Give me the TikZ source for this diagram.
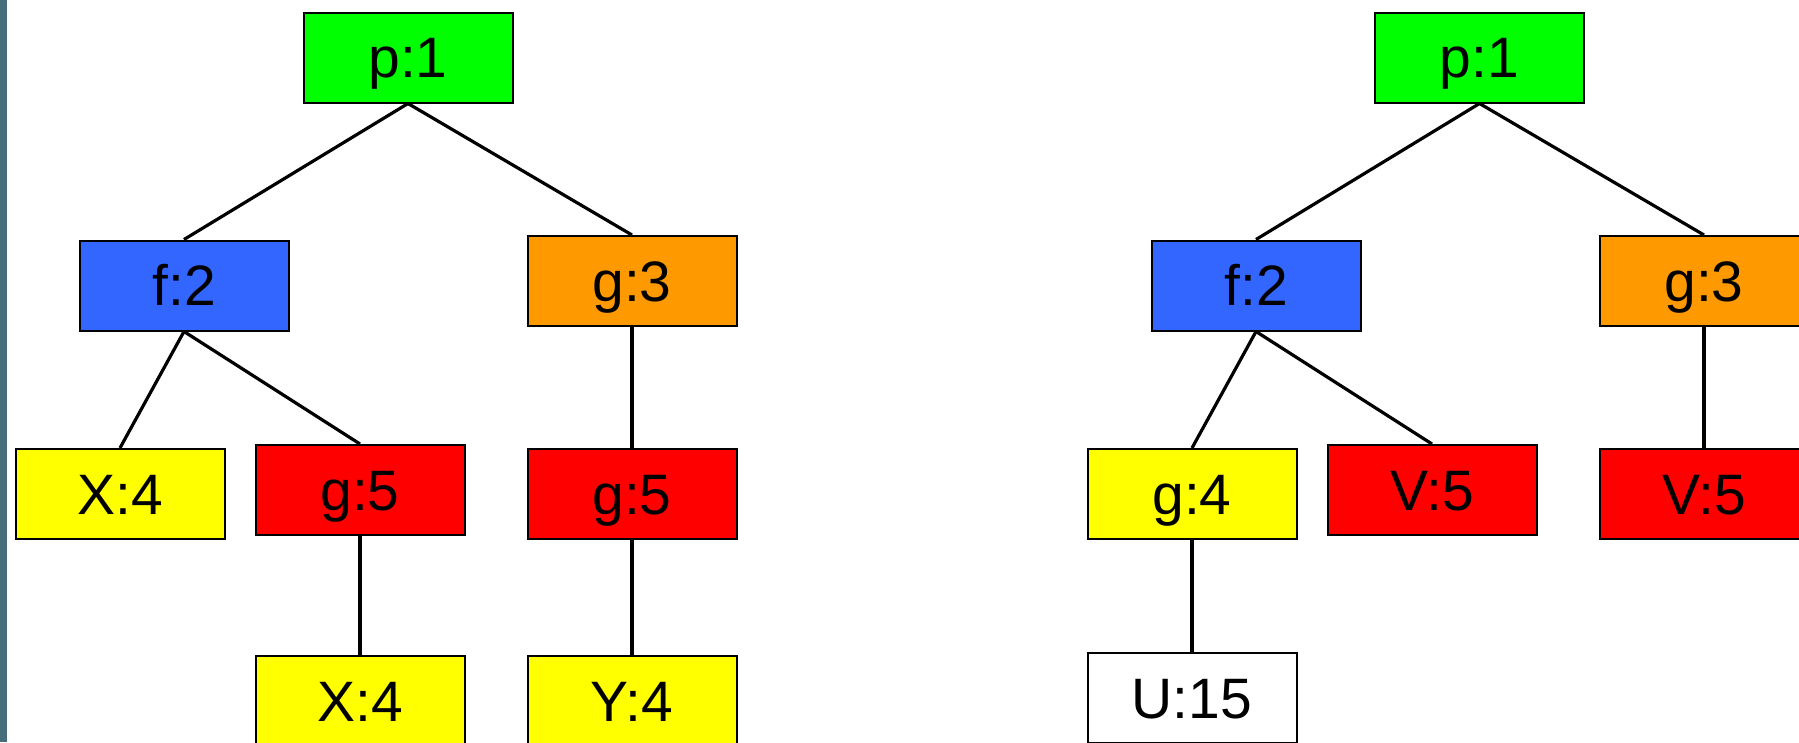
\documentclass[tikz,border=0pt]{standalone}
\usepackage{fontspec}
\setmainfont{Liberation Sans}
\definecolor{cgreen}{HTML}{00FF00}
\definecolor{cblue}{HTML}{3366FF}
\definecolor{corange}{HTML}{FF9900}
\definecolor{cyellow}{HTML}{FFFF00}
\definecolor{cred}{HTML}{FF0000}
\definecolor{cbar}{HTML}{466E7A}
\begin{document}
\begin{tikzpicture}[x=1pt,y=-1pt,
  box/.style={draw=black,line width=2pt,minimum width=209pt,minimum height=90pt,inner sep=0pt,
    font=\fontsize{57}{60}\selectfont,text height=40.8pt,text depth=0pt},
  edge/.style={draw=black,line width=3.2pt}]
\useasboundingbox (0,0) rectangle (1799,742);
\fill[white] (0,0) rectangle (1799,742);
\fill[cbar] (0,0) rectangle (7,742);
% left tree
\node[box,fill=cgreen]  (p1L) at (408,57.5) {p:1};
\node[box,fill=cblue]   (f2L) at (184,285.5) {f:2};
\node[box,fill=corange] (g3L) at (632,281) {g:3};
\node[box,fill=cyellow] (x4a) at (120,494) {X:4};
\node[box,fill=cred]    (g5a) at (360,490) {g:5};
\node[box,fill=cred]    (g5b) at (632,494) {g:5};
\node[box,fill=cyellow] (x4b) at (360,701) {X:4};
\node[box,fill=cyellow] (y4)  at (632,701) {Y:4};
\draw[edge] (p1L.south) -- (f2L.north);
\draw[edge] (p1L.south) -- (g3L.north);
\draw[edge] (f2L.south) -- (x4a.north);
\draw[edge] (f2L.south) -- (g5a.north);
\draw[edge] (g3L.south) -- (g5b.north);
\draw[edge] (g5a.south) -- (x4b.north);
\draw[edge] (g5b.south) -- (y4.north);
% right tree
\node[box,fill=cgreen]  (p1R) at (1479.5,57.5) {p:1};
\node[box,fill=cblue]   (f2R) at (1256,285.5) {f:2};
\node[box,fill=corange] (g3R) at (1704,281) {g:3};
\node[box,fill=cyellow] (g4)  at (1192,494) {g:4};
\node[box,fill=cred]    (v5a) at (1432,490) {V:5};
\node[box,fill=cred]    (v5b) at (1704,494) {V:5};
\node[box,fill=white]   (u15) at (1192,698) {U:15};
\draw[edge] (p1R.south) -- (f2R.north);
\draw[edge] (p1R.south) -- (g3R.north);
\draw[edge] (f2R.south) -- (g4.north);
\draw[edge] (f2R.south) -- (v5a.north);
\draw[edge] (g3R.south) -- (v5b.north);
\draw[edge] (g4.south) -- (u15.north);
\end{tikzpicture}
\end{document}
